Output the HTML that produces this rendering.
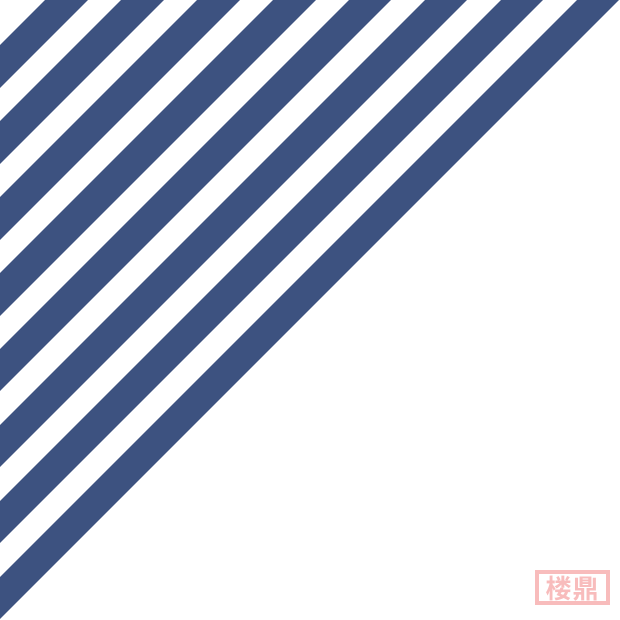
<!DOCTYPE html>
<html><head><style>
html,body{margin:0;padding:0;background:#fff;}
#w{position:relative;width:620px;height:620px;overflow:hidden;}
#seal{position:absolute;left:535px;top:570px;width:67px;height:27px;border:4px solid #f8bcbc;color:#f8bcbc;font:bold 26px "Noto Sans CJK SC",sans-serif;line-height:27px;text-align:center;letter-spacing:1px;overflow:hidden;}
</style></head><body><div id="w">
<svg width="620" height="620" style="position:absolute;left:0;top:0">
<g fill="#3d5280">
<polygon points="45,0 88,0 0,88 0,45"/>
<polygon points="121,0 164,0 0,164 0,121"/>
<polygon points="197,0 240,0 0,240 0,197"/>
<polygon points="273,0 316,0 0,316 0,273"/>
<polygon points="349,0 391,0 0,391 0,349"/>
<polygon points="425,0 467,0 0,467 0,425"/>
<polygon points="501,0 543,0 0,543 0,501"/>
<polygon points="577,0 619,0 0,619 0,577"/>
</g></svg>
<div id="seal">楼鼎</div>
</div></body></html>
